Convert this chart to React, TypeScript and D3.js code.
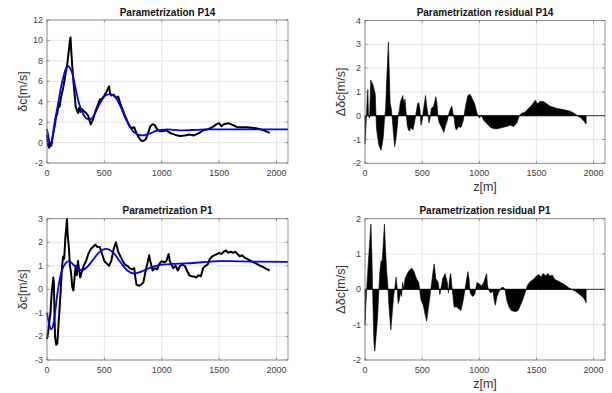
import React from 'react';
import * as d3 from 'd3';

// [z (m), value (m/s)]
const p14Measured: [number, number][] = [
  [0, 0.8], [10, -0.3], [20, -0.5], [30, 0.0], [38, -0.3], [50, 0.6], [60, 1.2], [70, 1.8], [80, 2.6], [90, 2.8],
  [100, 3.8], [110, 3.5], [120, 4.3], [130, 4.8], [140, 5.3], [150, 5.9], [160, 6.6], [170, 7.2], [180, 8.0],
  [190, 9.0], [200, 10.0], [205, 10.3], [210, 9.2], [220, 7.5], [230, 6.0], [240, 4.8], [250, 3.5], [260, 3.2],
  [270, 2.9], [280, 3.4], [290, 3.0], [300, 3.3], [320, 3.1], [340, 2.9], [360, 2.6], [380, 1.8], [400, 2.2],
  [420, 3.0], [440, 3.6], [460, 4.2], [480, 4.3], [500, 4.6], [520, 5.0], [540, 5.5], [550, 4.8], [560, 4.6],
  [580, 4.7], [600, 4.4], [620, 4.5], [640, 3.8], [660, 3.2], [680, 2.6], [700, 2.1], [720, 1.6], [740, 1.4],
  [760, 1.5], [780, 0.9], [800, 0.5], [820, 0.2], [840, 0.15], [860, 0.3], [880, 0.9], [900, 1.6], [920, 1.8],
  [940, 1.7], [960, 1.3], [980, 1.1], [1000, 1.1], [1040, 1.2], [1080, 0.9], [1120, 0.75], [1160, 0.65],
  [1200, 0.7], [1240, 0.8], [1280, 0.7], [1320, 0.9], [1360, 1.2], [1400, 1.3], [1440, 1.5], [1480, 1.8],
  [1500, 1.9], [1520, 1.6], [1540, 1.8], [1580, 1.9], [1620, 1.7], [1660, 1.5], [1700, 1.5], [1740, 1.5],
  [1780, 1.45], [1820, 1.4], [1860, 1.3], [1900, 1.15], [1940, 0.95],
];

const p14Fit: [number, number][] = [
  [0, 1.35], [15, 0.4], [30, -0.3], [45, 0.3], [60, 1.5], [80, 2.8], [100, 4.0], [120, 5.3], [140, 6.3],
  [160, 7.1], [180, 7.5], [200, 7.3], [220, 6.8], [240, 5.8], [260, 4.7], [280, 3.8], [300, 3.2], [320, 2.7],
  [340, 2.4], [370, 2.25], [400, 2.5], [420, 2.9], [450, 3.6], [480, 4.2], [510, 4.6], [550, 4.75], [580, 4.6],
  [600, 4.4], [625, 3.9], [650, 3.3], [675, 2.6], [700, 2.0], [725, 1.5], [750, 1.1], [775, 0.9], [800, 0.75],
  [835, 0.7], [870, 0.78], [900, 0.9], [950, 1.15], [1000, 1.25], [1050, 1.3], [1100, 1.25], [1200, 1.2],
  [1300, 1.25], [1400, 1.3], [1500, 1.3], [1700, 1.3], [1900, 1.3], [2100, 1.3],
];

const p14Residual: [number, number][] = [
  [0, -1.2], [10, -0.3], [20, 0.8], [25, 1.1], [30, 0.0], [40, -0.1], [50, 1.5], [60, 1.4], [70, 1.3],
  [80, 1.1], [90, 0.9], [100, -0.5], [110, -0.9], [120, -1.2], [130, -1.35], [140, -1.45], [150, -1.2],
  [160, -0.9], [170, -0.2], [180, 0.3], [190, 1.5], [200, 2.6], [205, 3.1], [210, 2.2], [220, 0.5], [230, 0.3],
  [240, -0.2], [250, -0.8], [260, -1.3], [270, -1.0], [280, -0.6], [290, 0.0], [300, 0.2], [310, 0.6],
  [320, 0.7], [330, 0.85], [340, 0.5], [350, 0.7], [360, 0.1], [370, -0.4], [380, -0.6], [390, -0.65],
  [400, -0.5], [420, -0.6], [440, -0.1], [460, 0.5], [470, 0.55], [480, 0.3], [490, -0.4], [500, -0.2],
  [510, 0.2], [530, 0.85], [540, 0.4], [550, 0.1], [560, -0.3], [570, -0.1], [580, 0.3], [600, 0.4],
  [620, 0.8], [630, 0.5], [640, -0.1], [650, -0.3], [670, -0.5], [690, -0.7], [700, -0.5], [720, -0.2],
  [740, 0.2], [760, 0.4], [770, 0.1], [780, -0.1], [790, -0.5], [800, -0.6], [820, -0.45], [840, -0.5],
  [860, -0.2], [880, 0.4], [900, 0.85], [920, 0.9], [940, 0.7], [960, 0.5], [980, 0.1], [1000, -0.1],
  [1020, 0.0], [1040, -0.2], [1060, -0.3], [1080, -0.4], [1100, -0.5], [1130, -0.55], [1160, -0.55],
  [1200, -0.5], [1240, -0.45], [1270, -0.4], [1300, -0.45], [1330, -0.3], [1350, 0.0], [1370, 0.1],
  [1400, 0.15], [1430, 0.3], [1460, 0.45], [1490, 0.65], [1510, 0.5], [1530, 0.6], [1560, 0.6], [1590, 0.5],
  [1620, 0.4], [1650, 0.35], [1680, 0.3], [1710, 0.28], [1740, 0.25], [1770, 0.22], [1800, 0.18],
  [1830, 0.1], [1860, 0.0], [1890, -0.1], [1920, -0.25], [1935, -0.35],
];

const p1Measured: [number, number][] = [
  [0, -2.1], [10, -1.8], [20, -1.4], [30, -1.0], [40, -0.2], [55, 0.5], [60, 0.3], [65, -1.0], [70, -2.0],
  [80, -2.35], [90, -2.3], [100, -1.5], [110, -0.8], [120, 0.0], [130, 0.9], [140, 1.4], [150, 1.3],
  [160, 2.2], [168, 2.6], [174, 3.0], [180, 2.3], [190, 1.8], [200, 1.0], [210, 0.7], [220, 0.1],
  [230, -0.05], [240, 0.5], [250, 1.0], [260, 0.6], [270, 1.2], [280, 0.8], [290, 0.5], [300, 0.7],
  [320, 1.0], [340, 1.2], [360, 1.5], [380, 1.7], [400, 1.8], [420, 1.9], [440, 1.8], [460, 1.8], [480, 1.5],
  [500, 1.2], [520, 1.1], [540, 1.0], [560, 1.2], [580, 1.7], [600, 2.0], [620, 1.6], [640, 1.4], [660, 1.2],
  [680, 1.05], [700, 1.0], [720, 0.9], [740, 0.85], [760, 0.9], [770, 0.5], [780, 0.2], [800, 0.15],
  [820, 0.2], [840, 0.3], [860, 0.8], [880, 1.2], [890, 1.45], [900, 1.2], [920, 0.8], [940, 0.9],
  [960, 0.85], [980, 1.1], [1000, 1.2], [1020, 1.15], [1040, 1.2], [1060, 1.5], [1070, 1.2], [1080, 1.1],
  [1100, 0.9], [1120, 1.0], [1140, 0.8], [1160, 1.0], [1180, 1.05], [1200, 1.0], [1220, 0.8], [1240, 0.6],
  [1260, 0.55], [1280, 0.55], [1300, 0.5], [1320, 0.6], [1340, 0.55], [1360, 0.9], [1380, 1.0],
  [1400, 1.05], [1420, 1.3], [1440, 1.4], [1460, 1.45], [1480, 1.5], [1500, 1.55], [1520, 1.5],
  [1540, 1.6], [1560, 1.65], [1580, 1.55], [1600, 1.6], [1620, 1.55], [1640, 1.6], [1660, 1.5],
  [1680, 1.4], [1700, 1.45], [1720, 1.35], [1740, 1.3], [1760, 1.25], [1780, 1.2], [1800, 1.15],
  [1820, 1.1], [1840, 1.05], [1860, 1.0], [1880, 0.95], [1900, 0.9], [1920, 0.85], [1940, 0.8],
];

const p1Fit: [number, number][] = [
  [0, -1.0], [20, -1.5], [35, -1.7], [50, -1.6], [70, -1.0], [90, -0.2], [110, 0.4], [130, 0.8], [160, 1.1],
  [190, 1.2], [220, 1.1], [260, 0.9], [305, 0.82], [350, 0.95], [400, 1.25], [450, 1.55], [515, 1.72],
  [580, 1.55], [640, 1.15], [700, 0.8], [760, 0.67], [820, 0.75], [880, 0.88], [950, 1.0], [1000, 1.05],
  [1100, 1.08], [1200, 1.1], [1300, 1.13], [1400, 1.17], [1500, 1.2], [1600, 1.2], [1800, 1.18],
  [2100, 1.17],
];

const p1Residual: [number, number][] = [
  [0, -1.0], [10, -0.3], [20, 0.3], [30, 0.8], [40, 1.3], [52, 1.85], [60, 1.0], [70, -0.5], [78, -1.5],
  [86, -1.75], [100, -1.2], [110, -0.8], [120, -0.1], [130, 0.5], [140, 0.8], [150, 0.8], [160, 1.3],
  [170, 1.85], [180, 1.1], [190, 0.5], [200, 0.1], [210, -0.5], [220, -0.9], [226, -1.15], [240, -0.6],
  [250, -0.2], [260, 0.0], [272, 0.35], [280, 0.1], [290, -0.4], [300, -0.3], [310, -0.1], [320, -0.2],
  [330, 0.2], [340, 0.0], [350, 0.3], [370, 0.45], [390, 0.55], [410, 0.6], [430, 0.5], [450, 0.3],
  [470, 0.2], [490, -0.3], [510, -0.45], [525, -0.7], [540, -0.9], [560, -0.4], [580, 0.1], [595, 0.5],
  [605, 0.72], [620, 0.3], [640, 0.2], [655, -0.15], [680, 0.3], [700, 0.45], [720, 0.2], [730, -0.1],
  [740, 0.3], [750, 0.45], [760, 0.1], [780, -0.5], [800, -0.5], [820, -0.55], [840, -0.6], [860, -0.3],
  [880, 0.1], [900, 0.5], [910, 0.3], [920, -0.1], [940, -0.2], [960, -0.15], [980, 0.2], [1000, 0.15],
  [1020, 0.1], [1040, 0.2], [1064, 0.45], [1072, 0.1], [1080, 0.0], [1100, -0.1], [1120, -0.05],
  [1130, -0.3], [1140, -0.45], [1155, -0.2], [1175, -0.05], [1195, 0.05], [1215, 0.05], [1225, 0.0],
  [1240, -0.3], [1260, -0.5], [1280, -0.6], [1300, -0.62], [1320, -0.63], [1340, -0.6], [1360, -0.45],
  [1380, -0.3], [1400, -0.1], [1420, 0.1], [1440, 0.2], [1460, 0.25], [1480, 0.3], [1500, 0.38],
  [1520, 0.42], [1540, 0.35], [1560, 0.45], [1580, 0.38], [1600, 0.45], [1620, 0.38], [1640, 0.4],
  [1660, 0.28], [1680, 0.25], [1700, 0.22], [1720, 0.18], [1740, 0.15], [1760, 0.1], [1780, 0.05],
  [1800, 0.02], [1820, -0.02], [1840, -0.05], [1860, -0.1], [1880, -0.15], [1900, -0.2], [1920, -0.28],
  [1935, -0.38],
];

const xTicks = [0, 500, 1000, 1500, 2000];
const p14Ticks = [-2, 0, 2, 4, 6, 8, 10, 12];
const p14ResTicks = [-2, -1, 0, 1, 2, 3, 4];
const p1Ticks = [-3, -2, -1, 0, 1, 2, 3];
const p1ResTicks = [-2, -1, 0, 1, 2];

const FONT = 'Liberation Sans, Arial, sans-serif';

type PanelProps = {
  left: number; top: number; right: number; bottom: number;
  yDomain: [number, number]; yTicks: number[];
  title: string; yLabel: string; xLabel?: string;
  measured?: [number, number][]; fit?: [number, number][]; residual?: [number, number][];
};

function Panel(p: PanelProps) {
  const x = d3.scaleLinear().domain([0, 2100]).range([p.left, p.right]);
  const y = d3.scaleLinear().domain(p.yDomain).range([p.bottom, p.top]);
  const line = d3.line<[number, number]>().x(d => x(d[0])).y(d => y(d[1]));
  const smooth = d3.line<[number, number]>().x(d => x(d[0])).y(d => y(d[1])).curve(d3.curveMonotoneX);
  const area = d3.area<[number, number]>().x(d => x(d[0])).y0(y(0)).y1(d => y(d[1]));
  const cx = (p.left + p.right) / 2;
  const cy = (p.top + p.bottom) / 2;
  return (
    <g fontFamily={FONT}>
      <rect x={p.left} y={p.top} width={p.right - p.left} height={p.bottom - p.top} fill="#fff" />
      {xTicks.map(t => (
        <line key={'gx' + t} x1={x(t)} x2={x(t)} y1={p.top} y2={p.bottom} stroke="#e0e0e0" strokeWidth={0.8} />
      ))}
      {p.yTicks.map(t => (
        <line key={'gy' + t} x1={p.left} x2={p.right} y1={y(t)} y2={y(t)} stroke="#e0e0e0" strokeWidth={0.8} />
      ))}
      {p.residual && (
        <g>
          <path d={area(p.residual) || ''} fill="#000" stroke="#000" strokeWidth={0.6} />
          <line x1={p.left} x2={p.right} y1={y(0)} y2={y(0)} stroke="#000" strokeWidth={0.8} />
        </g>
      )}
      {p.measured && <path d={line(p.measured) || ''} fill="none" stroke="#000" strokeWidth={2} strokeLinejoin="round" />}
      {p.fit && <path d={smooth(p.fit) || ''} fill="none" stroke="#0000ff" strokeWidth={1.8} />}
      <rect x={p.left} y={p.top} width={p.right - p.left} height={p.bottom - p.top} fill="none" stroke="#7a7a7a" strokeWidth={0.8} />
      {xTicks.map(t => (
        <g key={'tx' + t}>
          <line x1={x(t)} x2={x(t)} y1={p.bottom} y2={p.bottom - 2.5} stroke="#555" strokeWidth={0.6} />
          <line x1={x(t)} x2={x(t)} y1={p.top} y2={p.top + 2.5} stroke="#555" strokeWidth={0.6} />
          <text x={x(t)} y={p.bottom + 13} textAnchor="middle" fontSize={9} fill="#404040">{t}</text>
        </g>
      ))}
      {p.yTicks.map(t => (
        <g key={'ty' + t}>
          <line x1={p.left} x2={p.left + 2.5} y1={y(t)} y2={y(t)} stroke="#555" strokeWidth={0.6} />
          <line x1={p.right} x2={p.right - 2.5} y1={y(t)} y2={y(t)} stroke="#555" strokeWidth={0.6} />
          <text x={p.left - 4} y={y(t) + 3} textAnchor="end" fontSize={9} fill="#404040">{t}</text>
        </g>
      ))}
      <text x={cx} y={p.top - 4.5} textAnchor="middle" fontSize={10} fontWeight="bold" fill="#111">{p.title}</text>
      <text transform={`translate(${p.left - 20},${cy}) rotate(-90)`} textAnchor="middle" fontSize={12.5} fill="#333">{p.yLabel}</text>
      {p.xLabel && (
        <text x={cx} y={p.bottom + 28} textAnchor="middle" fontSize={12.5} fill="#333">{p.xLabel}</text>
      )}
    </g>
  );
}

export default function App() {
  return (
    <svg width={612} height={393} style={{ position: 'absolute', left: 0, top: 0, background: '#fff' }}>
      <rect width={612} height={393} fill="#fff" />
      <Panel left={47} top={20} right={288} bottom={163} yDomain={[-2, 12]} yTicks={p14Ticks}
        title="Parametrization P14" yLabel="δc[m/s]" measured={p14Measured} fit={p14Fit} />
      <Panel left={365} top={20.5} right={605} bottom={163.3} yDomain={[-2, 4]} yTicks={p14ResTicks}
        title="Parametrization residual P14" yLabel="Δδc[m/s]" xLabel="z[m]" residual={p14Residual} />
      <Panel left={47} top={218.7} right={288} bottom={360} yDomain={[-3, 3]} yTicks={p1Ticks}
        title="Parametrization P1" yLabel="δc[m/s]" measured={p1Measured} fit={p1Fit} />
      <Panel left={365} top={218.7} right={605} bottom={360} yDomain={[-2, 2]} yTicks={p1ResTicks}
        title="Parametrization residual P1" yLabel="Δδc[m/s]" xLabel="z[m]" residual={p1Residual} />
    </svg>
  );
}
